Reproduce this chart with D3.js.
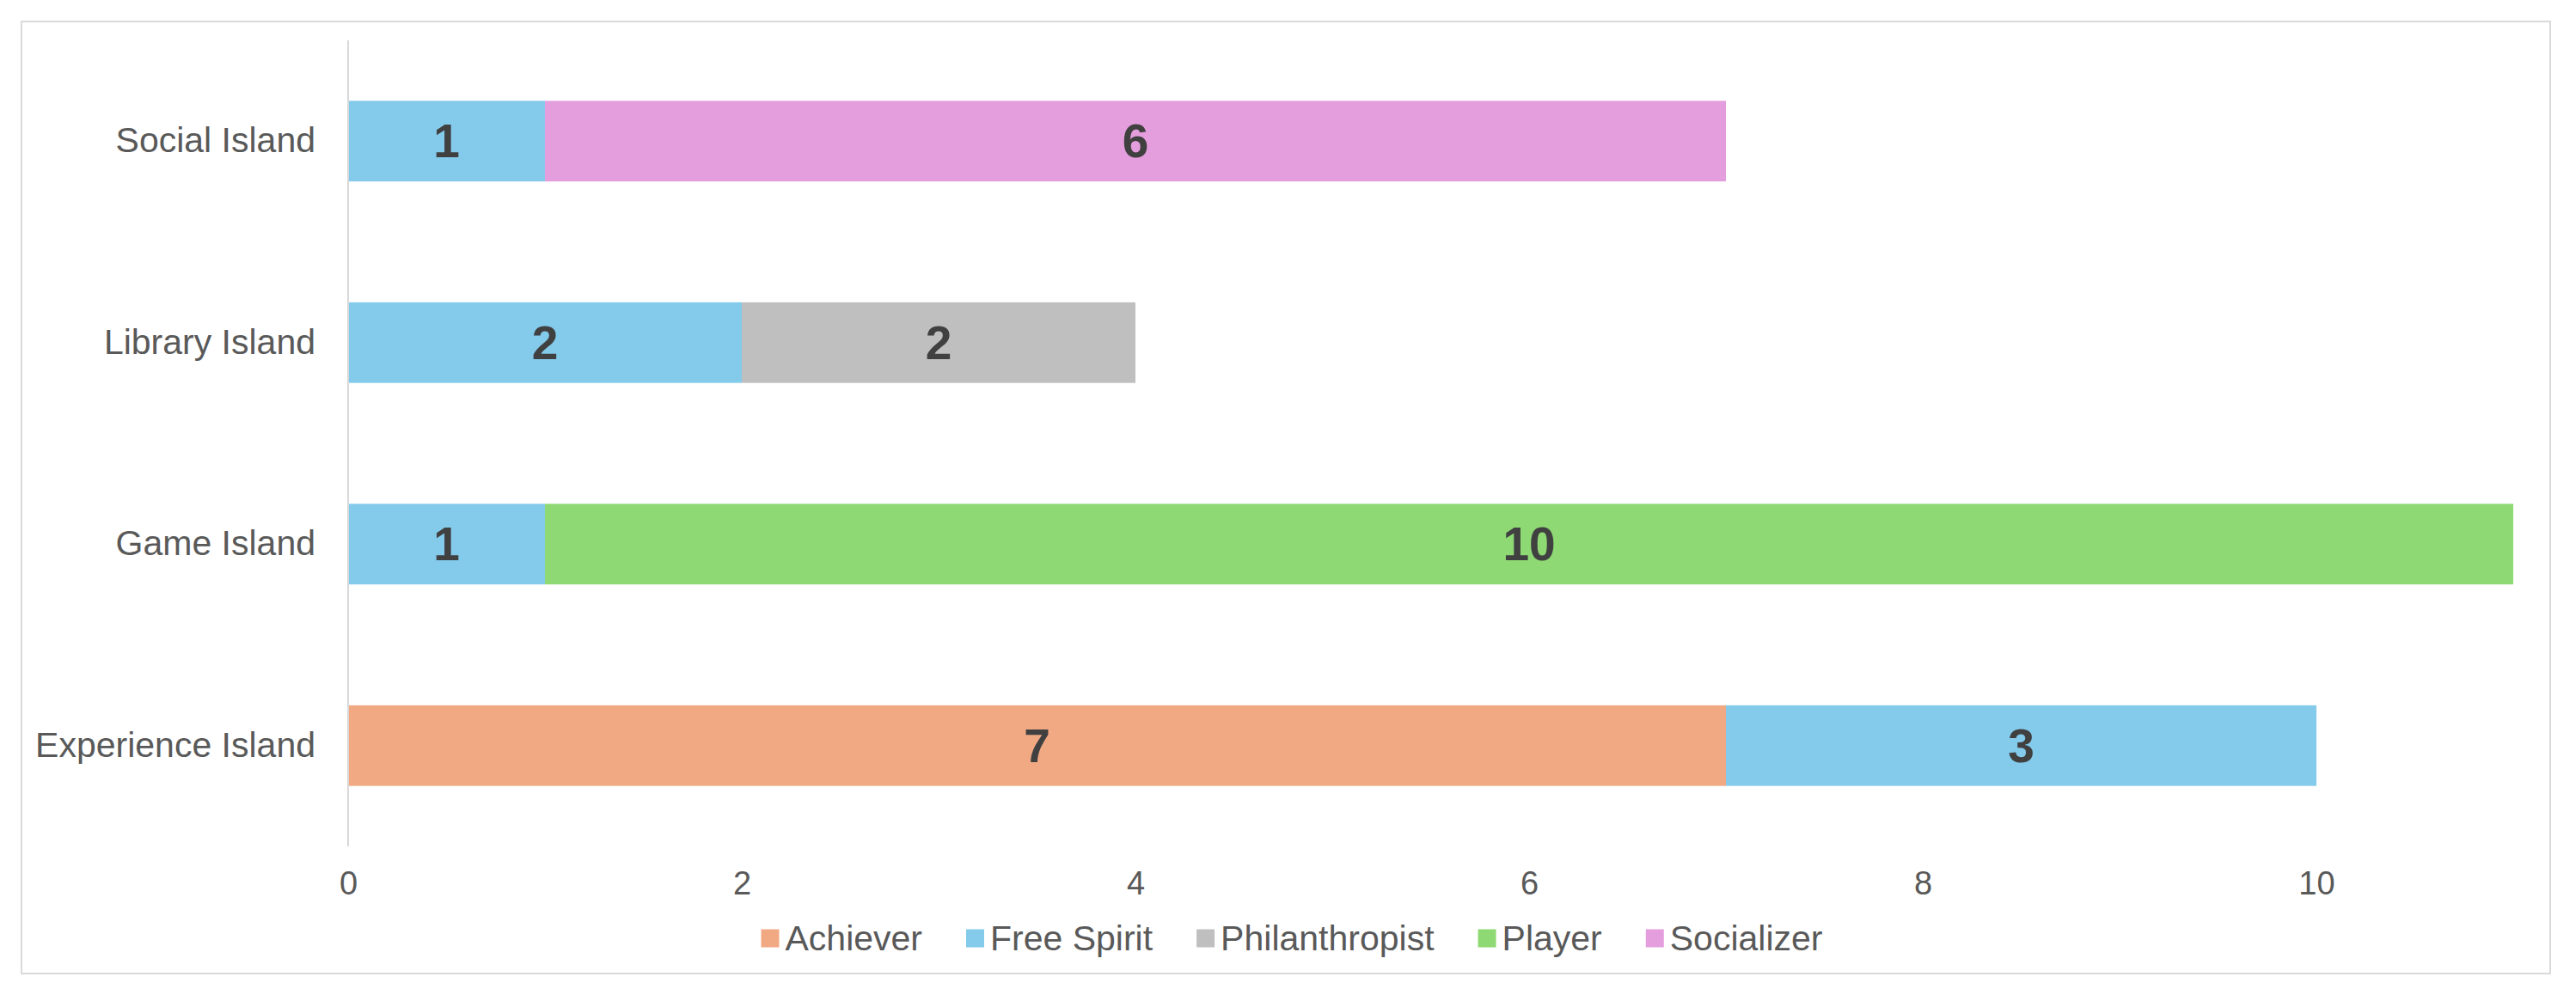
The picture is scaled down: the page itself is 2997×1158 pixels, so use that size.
<!DOCTYPE html>
<html>
<head>
<meta charset="utf-8">
<script src="https://cdn.jsdelivr.net/npm/d3@7"></script>
<style>
  html, body { margin: 0; padding: 0; background: #fff; }
  svg { display: block; font-family: "Liberation Sans", Arial, sans-serif; }
</style>
</head>
<body>
<svg id="chart" width="2997" height="1158"></svg>
<script>
// islands, listed bottom to top like the original chart
const islands = ['Experience Island', 'Game Island', 'Library Island', 'Social Island'];
const series = ['Achiever', 'Free Spirit', 'Philanthropist', 'Player', 'Socializer'];
const colors = ['#F1A983', '#83CAEB', '#BFBFBF', '#8ED973', '#E49EDD'];

// one value per island (same order as islands)
const achiever = [7, 0, 0, 0];
const freeSpirit = [3, 1, 2, 1];
const philanthropist = [0, 0, 2, 0];
const player = [0, 10, 0, 0];
const socializer = [0, 0, 0, 6];

const xTicks = [0, 2, 4, 6, 8, 10];
const xMax = 11;

const svg = d3.select('#chart');
const plot = {left: 405, right: 2924, top: 47, bottom: 985};

// chart frame
svg.append('rect')
  .attr('x', 25).attr('y', 25)
  .attr('width', 2942).attr('height', 1108)
  .attr('fill', '#fff').attr('stroke', '#D9D9D9').attr('stroke-width', 2);

const rows = islands.map((name, i) => ({
  island: name,
  'Achiever': achiever[i],
  'Free Spirit': freeSpirit[i],
  'Philanthropist': philanthropist[i],
  'Player': player[i],
  'Socializer': socializer[i]
}));

const stacked = d3.stack().keys(series)(rows);

const x = d3.scaleLinear().domain([0, xMax]).range([plot.left, plot.right]);
const y = d3.scaleBand()
  .domain(islands.slice().reverse())
  .range([plot.top, plot.bottom])
  .paddingInner(0.6)
  .paddingOuter(0.3);
const color = d3.scaleOrdinal().domain(series).range(colors);

// bars
const layers = svg.append('g').selectAll('g').data(stacked).enter().append('g')
  .attr('fill', d => color(d.key));

layers.selectAll('rect').data(d => d).enter().append('rect')
  .attr('x', d => x(d[0]))
  .attr('y', d => y(d.data.island))
  .attr('width', d => x(d[1]) - x(d[0]))
  .attr('height', y.bandwidth());

// data labels
layers.selectAll('text').data(d => d.filter(s => s[1] - s[0] > 0)).enter().append('text')
  .attr('x', d => (x(d[0]) + x(d[1])) / 2)
  .attr('y', d => y(d.data.island) + y.bandwidth() / 2)
  .attr('text-anchor', 'middle')
  .attr('dominant-baseline', 'central')
  .attr('font-size', 55)
  .attr('font-weight', 'bold')
  .attr('fill', '#404040')
  .text(d => d[1] - d[0]);

// y axis
const yAxis = svg.append('g')
  .attr('transform', `translate(${plot.left},0)`)
  .call(d3.axisLeft(y).tickSize(0).tickPadding(38));
yAxis.select('.domain').remove();
yAxis.append('line')
  .attr('x1', 0).attr('x2', 0)
  .attr('y1', plot.top).attr('y2', plot.bottom)
  .attr('stroke', '#D9D9D9').attr('stroke-width', 2);
yAxis.selectAll('text')
  .attr('font-size', 41)
  .attr('font-family', '"Liberation Sans", Arial, sans-serif')
  .attr('fill', '#595959');

// x axis (labels only)
const xAxis = svg.append('g')
  .attr('transform', `translate(0,${plot.bottom})`)
  .call(d3.axisBottom(x).tickValues(xTicks).tickSize(0).tickPadding(29));
xAxis.select('.domain').remove();
xAxis.selectAll('text')
  .attr('font-size', 38)
  .attr('font-family', '"Liberation Sans", Arial, sans-serif')
  .attr('fill', '#595959');

// legend
const legend = svg.append('g');
let lx = 0;
series.forEach((s, i) => {
  const g = legend.append('g').attr('transform', `translate(${lx},0)`);
  g.append('rect')
    .attr('x', 0).attr('y', -10.5)
    .attr('width', 21).attr('height', 21)
    .attr('fill', color(s));
  const t = g.append('text')
    .attr('x', 28).attr('y', 0)
    .attr('dominant-baseline', 'central')
    .attr('font-size', 41)
    .attr('fill', '#595959')
    .text(s);
  lx += 28 + t.node().getComputedTextLength() + 51;
});
const legendW = lx - 51;
legend.attr('transform', `translate(${1503 - legendW / 2},1092)`);
</script>
</body>
</html>
